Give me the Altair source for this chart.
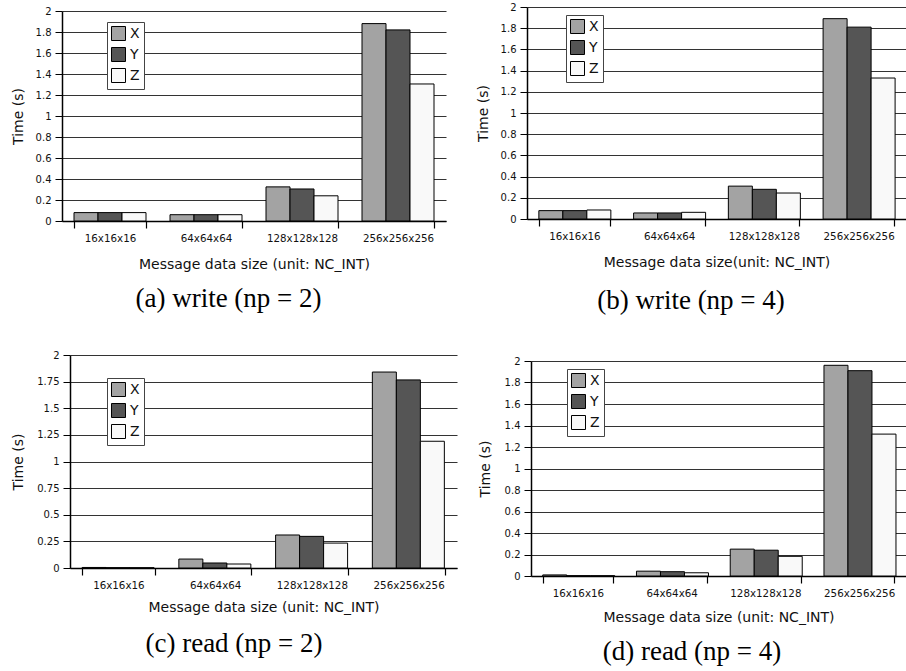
import altair as alt
import pandas as pd

sizes = ["16x16x16", "64x64x64", "128x128x128", "256x256x256"]
series_names = ["X", "Y", "Z"]
bar_colors = ["#a3a3a3", "#555555", "#f9f9f9"]

# (a) write np=2
a_X = [0.08, 0.06, 0.325, 1.88]
a_Y = [0.08, 0.06, 0.305, 1.82]
a_Z = [0.08, 0.06, 0.24, 1.305]
# (b) write np=4
b_X = [0.079, 0.057, 0.31, 1.89]
b_Y = [0.079, 0.057, 0.28, 1.81]
b_Z = [0.085, 0.063, 0.245, 1.33]
# (c) read np=2
c_X = [0.005, 0.084, 0.31, 1.84]
c_Y = [0.003, 0.047, 0.297, 1.766]
c_Z = [0.003, 0.0375, 0.234, 1.19]
# (d) read np=4
d_X = [0.01, 0.045, 0.25, 1.96]
d_Y = [0.003, 0.04, 0.24, 1.91]
d_Z = [0.003, 0.03, 0.183, 1.32]

ticks_02 = [0, 0.2, 0.4, 0.6, 0.8, 1, 1.2, 1.4, 1.6, 1.8, 2]
ticks_025 = [0, 0.25, 0.5, 0.75, 1, 1.25, 1.5, 1.75, 2]

FONT = "DejaVu Sans"


def panel(vals, yticks, xtitle, caption, width, height, dx, ytop, ext, ytp,
          legx, legy, xtp, cap_off):
    rows = []
    for s, v in zip(series_names, vals):
        for size, val in zip(sizes, v):
            rows.append({"size": size, "series": s, "time": val})
    df = pd.DataFrame(rows)
    return alt.Chart(df).mark_bar(stroke="black", strokeWidth=1).encode(
        x=alt.X(
            "size:N", sort=sizes,
            scale=alt.Scale(paddingInner=0.25, paddingOuter=0.125, range=[dx, width]),
            axis=alt.Axis(
                title=xtitle, labelAngle=0, tickBand="extent", tickSize=7,
                tickColor="black", tickWidth=1.2, domainColor="black", domainWidth=1.5,
                labelFont=FONT, labelFontSize=10.3, labelColor="#111", labelPadding=5,
                titleFont=FONT, titleFontSize=14, titleFontWeight="normal",
                titleColor="#111", titlePadding=xtp, grid=False,
            ),
        ),
        xOffset=alt.XOffset("series:N", sort=series_names,
                            scale=alt.Scale(paddingInner=0, paddingOuter=0)),
        y=alt.Y(
            "time:Q",
            scale=alt.Scale(domain=[0, 2], nice=False, range=[height, ytop]),
            axis=alt.Axis(
                title="Time (s)", values=yticks, format=".3~g", tickSize=7,
                tickColor="black", tickWidth=1, domainColor="black", domainWidth=1.5,
                labelFont=FONT, labelFontSize=10, labelColor="#111", labelPadding=4,
                titleFont=FONT, titleFontSize=14, titleFontWeight="normal",
                titleColor="#111", titlePadding=ytp, minExtent=ext, maxExtent=ext,
                offset=-dx,
                grid=True, gridColor="#333333", gridWidth=1.2,
            ),
        ),
        color=alt.Color(
            "series:N",
            scale=alt.Scale(domain=series_names, range=bar_colors),
            legend=alt.Legend(
                title=None, orient="none", legendX=legx, legendY=legy,
                symbolType="square", symbolSize=196, symbolStrokeColor="black",
                symbolStrokeWidth=1, labelFont=FONT, labelFontSize=14,
                labelColor="#111", labelOffset=4, rowPadding=2, padding=4,
                fillColor="white", strokeColor="#444444",
            ),
        ),
    ).properties(
        width=width, height=height,
        title=alt.TitleParams(caption, orient="bottom", offset=cap_off, frame="bounds",
                              anchor="middle", font="Liberation Serif", fontSize=27,
                              fontWeight="normal", color="black"),
    )


pa = panel([a_X, a_Y, a_Z], ticks_02, "Message data size (unit: NC_INT)",
           "(a) write (np = 2)", 384, 214, 0, 4, 28, 9, 45, 15, 14, 15)
pb = panel([b_X, b_Y, b_Z], ticks_02, "Message data size(unit: NC_INT)",
           "(b) write (np = 4)", 379, 212, 0, 0, 27, 10, 39, 8, 14, 19)
pc = panel([c_X, c_Y, c_Z], ticks_025, "Message data size (unit: NC_INT)",
           "(c) read (np = 2)", 395, 213, 8, 0, 35, 10, 45, 23, 10, 17)
pd_ = panel([d_X, d_Y, d_Z], ticks_02, "Message data size (unit: NC_INT)",
            "(d) read (np = 4)", 379, 221, 4, 6, 29, 10, 40, 14, 12, 15)

chart = alt.concat(
    pa, pb, pc, pd_, columns=2, spacing={"row": 35, "column": 19}
).resolve_legend(
    color="independent"
).properties(
    padding={"left": 11, "top": 2, "right": 0, "bottom": 0},
    background="white",
).configure_view(stroke=None)

chart.save("out.html", embed_options={"renderer": "svg", "actions": False})
